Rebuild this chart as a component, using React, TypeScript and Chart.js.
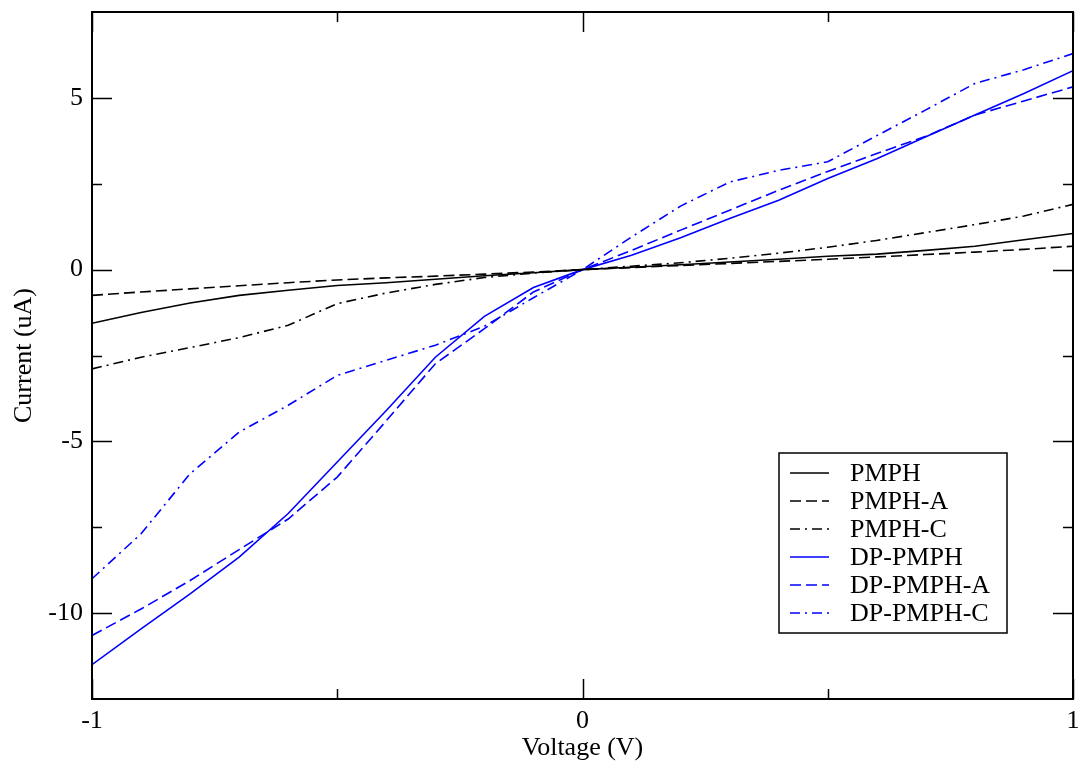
import React, { useEffect, useRef } from "react";
import { Chart, registerables } from "chart.js";

Chart.register(...registerables);

const voltages = [-1, -0.9, -0.8, -0.7, -0.6, -0.5, -0.4, -0.3, -0.2, -0.1, 0, 0.1, 0.2, 0.3, 0.4, 0.5, 0.6, 0.7, 0.8, 0.9, 1];

const pmph = [-1.56, -1.25, -0.97, -0.75, -0.6, -0.46, -0.38, -0.28, -0.18, -0.09, 0, 0.07, 0.14, 0.22, 0.3, 0.39, 0.45, 0.56, 0.68, 0.87, 1.05];
const pmphA = [-0.75, -0.65, -0.56, -0.47, -0.38, -0.3, -0.24, -0.19, -0.13, -0.07, 0, 0.06, 0.12, 0.18, 0.24, 0.3, 0.37, 0.44, 0.51, 0.59, 0.68];
const pmphC = [-2.89, -2.55, -2.27, -1.98, -1.62, -0.99, -0.68, -0.43, -0.23, -0.1, 0, 0.1, 0.2, 0.33, 0.48, 0.65, 0.85, 1.08, 1.31, 1.56, 1.9];
const dpPmph = [-11.5, -10.46, -9.44, -8.37, -7.1, -5.6, -4.1, -2.55, -1.36, -0.52, 0, 0.42, 0.93, 1.49, 2.02, 2.65, 3.23, 3.87, 4.5, 5.13, 5.79];
const dpPmphA = [-10.65, -9.88, -9.05, -8.15, -7.26, -6.04, -4.4, -2.74, -1.72, -0.65, 0, 0.56, 1.15, 1.73, 2.31, 2.86, 3.38, 3.88, 4.5, 4.91, 5.32];
const dpPmphC = [-9.0, -7.69, -5.94, -4.73, -3.95, -3.08, -2.64, -2.2, -1.65, -0.82, 0, 0.95, 1.85, 2.55, 2.89, 3.14, 3.9, 4.65, 5.42, 5.82, 6.29];

const seriesNames = ["PMPH", "PMPH-A", "PMPH-C", "DP-PMPH", "DP-PMPH-A", "DP-PMPH-C"];
const seriesValues = [pmph, pmphA, pmphC, dpPmph, dpPmphA, dpPmphC];
const seriesColors = ["#000000", "#000000", "#000000", "#0000ff", "#0000ff", "#0000ff"];

const xMajorTicks = [-1, 0, 1];
const xMinorTicks = [-0.5, 0.5];
const yMajorTicks = [-10, -5, 0, 5];
const yMinorTicks = [-7.5, -2.5, 2.5];

const SOLID: number[] = [];
const DASH = [11, 5];
const DASHDOT = [10, 5, 2, 5];
const dashes = [SOLID, DASH, DASHDOT, SOLID, DASH, DASHDOT];

const FONT = "'Liberation Serif', 'Times New Roman', serif";

const framePlugin = {
  id: "frameTicks",
  afterDraw(chart: any) {
    const { ctx, chartArea } = chart;
    const xs = chart.scales.x;
    const ys = chart.scales.y;
    const { left, right, top, bottom } = chartArea;
    ctx.save();
    ctx.strokeStyle = "#000";
    ctx.lineWidth = 2;
    ctx.setLineDash([]);
    ctx.strokeRect(left, top, right - left, bottom - top);
    ctx.lineWidth = 1.5;
    const major = 20;
    const minor = 10;
    const drawX = (v: number, len: number) => {
      const px = Math.round(xs.getPixelForValue(v)) + 0.5;
      ctx.beginPath();
      ctx.moveTo(px, bottom);
      ctx.lineTo(px, bottom - len);
      ctx.moveTo(px, top);
      ctx.lineTo(px, top + len);
      ctx.stroke();
    };
    const drawY = (v: number, len: number) => {
      const py = Math.round(ys.getPixelForValue(v)) + 0.5;
      ctx.beginPath();
      ctx.moveTo(left, py);
      ctx.lineTo(left + len, py);
      ctx.moveTo(right, py);
      ctx.lineTo(right - len, py);
      ctx.stroke();
    };
    xMajorTicks.forEach((v) => drawX(v, major));
    xMinorTicks.forEach((v) => drawX(v, minor));
    yMajorTicks.forEach((v) => drawY(v, major));
    yMinorTicks.forEach((v) => drawY(v, minor));

    // legend
    const bx = right - 294;
    const by = top + 441;
    const bw = 228;
    const bh = 180;
    ctx.fillStyle = "#fff";
    ctx.fillRect(bx, by, bw, bh);
    ctx.lineWidth = 1.5;
    ctx.strokeStyle = "#000";
    ctx.strokeRect(bx, by, bw, bh);
    ctx.font = "26px " + FONT;
    ctx.textBaseline = "middle";
    ctx.textAlign = "left";
    seriesNames.forEach((name, i) => {
      const y = by + 20 + i * 28;
      ctx.strokeStyle = seriesColors[i];
      ctx.lineWidth = 1.6;
      ctx.setLineDash(dashes[i]);
      ctx.beginPath();
      ctx.moveTo(bx + 11, y);
      ctx.lineTo(bx + 50, y);
      ctx.stroke();
      ctx.setLineDash([]);
      ctx.fillStyle = "#000";
      ctx.fillText(name, bx + 71, y + 1);
    });
    ctx.restore();
  },
};

export default function App() {
  const ref = useRef<HTMLCanvasElement | null>(null);
  useEffect(() => {
    if (!ref.current) return;
    const chart = new Chart(ref.current, {
      type: "line",
      data: {
        datasets: seriesNames.map((name, i) => ({
          label: name,
          data: voltages.map((v, j) => ({ x: v, y: seriesValues[i][j] })),
          borderColor: seriesColors[i],
          backgroundColor: seriesColors[i],
          borderWidth: 1.6,
          borderDash: dashes[i],
          pointRadius: 0,
          tension: 0,
          fill: false,
        })),
      },
      options: {
        responsive: false,
        animation: false,
        layout: { padding: { left: 0, top: 12, right: 10, bottom: 0 } },
        plugins: { legend: { display: false }, tooltip: { enabled: false } },
        scales: {
          x: {
            type: "linear",
            min: -1,
            max: 1,
            grid: { display: false, drawTicks: false, tickLength: 0 },
            border: { display: false },
            afterBuildTicks: (s: any) => {
              s.ticks = xMajorTicks.map((v) => ({ value: v }));
            },
            afterFit: (s: any) => {
              s.height = 69;
              s.paddingLeft = 0;
              s.paddingRight = 0;
            },
            ticks: {
              color: "#000",
              padding: 7,
              maxRotation: 0,
              font: { family: FONT, size: 26 },
              callback: (v: any) => String(v),
            },
            title: {
              display: true,
              text: "Voltage (V)",
              color: "#000",
              font: { family: FONT, size: 26 },
              padding: { top: 0, bottom: 4 },
            },
          },
          y: {
            type: "linear",
            min: -12.5,
            max: 7.5,
            grid: { display: false, drawTicks: false, tickLength: 0 },
            border: { display: false },
            afterBuildTicks: (s: any) => {
              s.ticks = yMajorTicks.map((v) => ({ value: v }));
            },
            afterFit: (s: any) => {
              s.width = 92;
              s.paddingTop = 0;
              s.paddingBottom = 0;
            },
            ticks: {
              color: "#000",
              padding: 9,
              font: { family: FONT, size: 26 },
              callback: (v: any) => String(v),
            },
            title: {
              display: true,
              text: "Current (uA)",
              color: "#000",
              font: { family: FONT, size: 26 },
              padding: { top: 9, bottom: 0 },
            },
          },
        },
      },
      plugins: [framePlugin],
    });
    return () => chart.destroy();
  }, []);
  return (
    <div style={{ position: "absolute", left: 0, top: 0, width: 1083, height: 768, background: "#fff" }}>
      <canvas ref={ref} width={1083} height={768} />
    </div>
  );
}
